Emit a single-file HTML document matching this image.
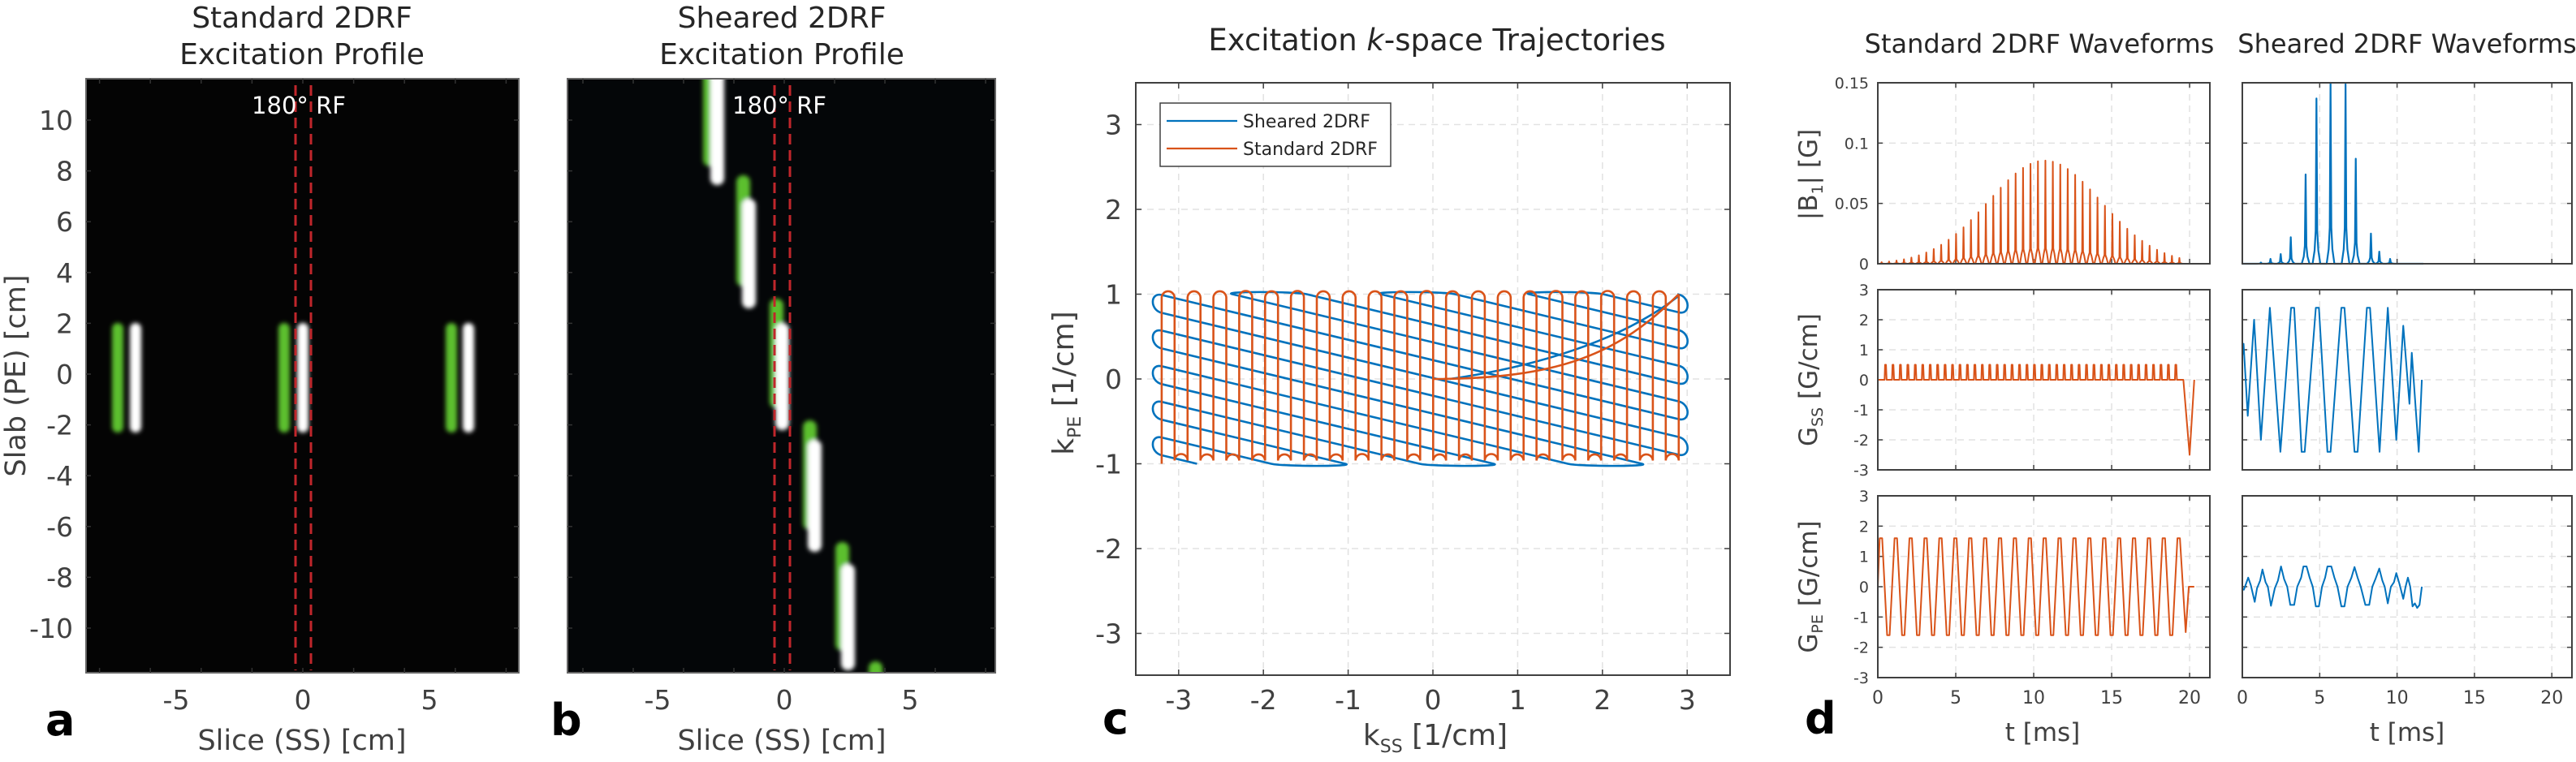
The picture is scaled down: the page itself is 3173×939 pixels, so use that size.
<!DOCTYPE html>
<html><head><meta charset="utf-8"><style>
html,body{margin:0;padding:0;background:#fff;}
svg{display:block;}
text{font-family:"DejaVu Sans","Liberation Sans",sans-serif;}
</style></head><body>
<svg id="s" xmlns="http://www.w3.org/2000/svg" width="3173" height="939" viewBox="0 0 3173 939">
<defs>
<filter id="bl" x="-50%" y="-20%" width="200%" height="140%"><feGaussianBlur stdDeviation="2.6"/></filter>
<clipPath id="ca"><rect x="106" y="97" width="533" height="732"/></clipPath>
<clipPath id="cb"><rect x="699" y="97" width="527" height="732"/></clipPath>
</defs>
<!-- Panel a -->
<rect x="106" y="97" width="533" height="732" fill="#040404"/>
<g clip-path="url(#ca)" filter="url(#bl)">
<rect x="138" y="398" width="14" height="135" rx="7" fill="#5cbf2e"/>
<rect x="160" y="398" width="14" height="135" rx="7" fill="#ffffff"/>
<rect x="343" y="398" width="14" height="135" rx="7" fill="#5cbf2e"/>
<rect x="366" y="398" width="14" height="135" rx="7" fill="#ffffff"/>
<rect x="549" y="398" width="14" height="135" rx="7" fill="#5cbf2e"/>
<rect x="570" y="398" width="14" height="135" rx="7" fill="#ffffff"/>
</g>
<g stroke="#c0262b" stroke-width="3" stroke-dasharray="13,7">
<line x1="364" y1="105" x2="364" y2="826"/><line x1="383" y1="105" x2="383" y2="826"/>
</g>
<text x="368" y="140" font-size="29" fill="#fff" text-anchor="middle">180° RF</text>
<rect x="106" y="97" width="533" height="732" fill="none" stroke="#666" stroke-width="2"/>
<!-- Panel b -->
<rect x="699" y="97" width="527" height="732" fill="#040608"/>
<g clip-path="url(#cb)" filter="url(#bl)">
<rect x="866" y="80" width="17" height="125" rx="8" fill="#5cbf2e"/>
<rect x="875" y="85" width="17" height="143" rx="8" fill="#ffffff"/>
<rect x="907" y="216" width="17" height="137" rx="8" fill="#5cbf2e"/>
<rect x="914" y="245" width="17" height="135" rx="8" fill="#ffffff"/>
<rect x="948" y="368" width="17" height="135" rx="8" fill="#5cbf2e"/>
<rect x="955" y="398" width="17" height="132" rx="8" fill="#ffffff"/>
<rect x="989" y="518" width="17" height="135" rx="8" fill="#5cbf2e"/>
<rect x="995" y="542" width="17" height="138" rx="8" fill="#ffffff"/>
<rect x="1029" y="668" width="17" height="134" rx="8" fill="#5cbf2e"/>
<rect x="1036" y="695" width="17" height="131" rx="8" fill="#ffffff"/>
<rect x="1070" y="815" width="17" height="60" rx="8" fill="#5cbf2e"/>
</g>
<g stroke="#c0262b" stroke-width="3" stroke-dasharray="13,7">
<line x1="954" y1="105" x2="954" y2="826"/><line x1="973" y1="105" x2="973" y2="826"/>
</g>
<text x="960" y="140" font-size="29" fill="#fff" text-anchor="middle">180° RF</text>
<rect x="699" y="97" width="527" height="732" fill="none" stroke="#666" stroke-width="2"/>
<g id="ab" fill="#262626" font-size="36" text-anchor="middle">
<text x="372" y="34">Standard 2DRF</text><text x="372" y="79">Excitation Profile</text>
<text x="963" y="34">Sheared 2DRF</text><text x="963" y="79">Excitation Profile</text>
</g>
<g fill="#404040" font-size="33" text-anchor="middle">
<text x="217" y="874">-5</text><text x="373" y="874">0</text><text x="529" y="874">5</text>
<text x="810" y="874">-5</text><text x="966" y="874">0</text><text x="1121" y="874">5</text>
</g>
<g fill="#404040" font-size="35" text-anchor="middle">
<text x="372" y="924">Slice (SS) [cm]</text><text x="963" y="924">Slice (SS) [cm]</text>
<text transform="translate(31,463) rotate(-90)">Slab (PE) [cm]</text>
</g>
<g id="aytk" fill="#404040" font-size="33" text-anchor="end"></g>
<g font-weight="bold" font-size="54" fill="#000">
<text x="56" y="906">a</text><text x="678" y="906">b</text><text x="1358" y="904">c</text><text x="2223" y="904">d</text>
</g>
<!-- Panel c -->
<g id="cg"></g>
<text x="1770" y="62" font-size="37" fill="#262626" text-anchor="middle">Excitation <tspan font-style="italic">k</tspan>-space Trajectories</text>
<text x="1768" y="918" font-size="36" fill="#404040" text-anchor="middle">k<tspan font-size="22" dy="9">SS</tspan><tspan dy="-9"> [1/cm]</tspan></text>
<text transform="translate(1322,472) rotate(-90)" font-size="36" fill="#404040" text-anchor="middle">k<tspan font-size="22" dy="9">PE</tspan><tspan dy="-9"> [1/cm]</tspan></text>
<!-- Panel d -->
<g id="dg"></g>
<g fill="#262626" font-size="32" text-anchor="middle">
<text x="2512" y="65">Standard 2DRF Waveforms</text><text x="2965" y="65">Sheared 2DRF Waveforms</text>
</g>
<g fill="#404040" font-size="31" text-anchor="middle">
<text x="2516" y="913">t [ms]</text><text x="2965" y="913">t [ms]</text>
<text transform="translate(2238,215) rotate(-90)">|B<tspan font-size="19" dy="7">1</tspan><tspan dy="-7">| [G]</tspan></text>
<text transform="translate(2238,468) rotate(-90)">G<tspan font-size="19" dy="7">SS</tspan><tspan dy="-7"> [G/cm]</tspan></text>
<text transform="translate(2238,723) rotate(-90)">G<tspan font-size="19" dy="7">PE</tspan><tspan dy="-7"> [G/cm]</tspan></text>
</g>
</svg>
<script>
(function(){
var NS="http://www.w3.org/2000/svg";
function el(parent,tag,attrs,txt){var e=document.createElementNS(NS,tag);for(var k in attrs)e.setAttribute(k,attrs[k]);if(txt!==undefined)e.textContent=txt;parent.appendChild(e);return e;}
var svg=document.getElementById('s');
var ay=document.getElementById('aytk');
for(var v=-10;v<=10;v+=2){var y=461-31.3*v;el(ay,'text',{x:90,y:y+12},String(v));}
var tk=el(svg,'g',{stroke:'#333','stroke-width':1.5});
for(var v=-10;v<=10;v+=2){var y=461-31.3*v;[[106,639],[699,1226]].forEach(function(p){el(tk,'line',{x1:p[0],y1:y,x2:p[0]+6,y2:y});el(tk,'line',{x1:p[1],y1:y,x2:p[1]-6,y2:y});});}
for(var v=-8;v<=8;v+=2){var x=373+31.3*v;el(tk,'line',{x1:x,y1:829,x2:x,y2:823});el(tk,'line',{x1:x,y1:97,x2:x,y2:103});var x2=966+31*v;el(tk,'line',{x1:x2,y1:829,x2:x2,y2:823});el(tk,'line',{x1:x2,y1:97,x2:x2,y2:103});}

var cg=document.getElementById('cg');
var X=function(k){return 1765+104.4*k;}, Y=function(k){return 467-104.5*k;};
var L=1399,R=2131,T=102,B=832;
for(var i=-3;i<=3;i++){
 el(cg,'line',{x1:X(i),y1:T,x2:X(i),y2:B,stroke:'#e2e2e2','stroke-width':1.5,'stroke-dasharray':'8,6'});
 el(cg,'line',{x1:L,y1:Y(i),x2:R,y2:Y(i),stroke:'#e2e2e2','stroke-width':1.5,'stroke-dasharray':'8,6'});
}
var ct=el(cg,'g',{stroke:'#404040','stroke-width':1.5});
for(var i=-3;i<=3;i++){
 el(ct,'line',{x1:X(i),y1:B,x2:X(i),y2:B-7});el(ct,'line',{x1:X(i),y1:T,x2:X(i),y2:T+7});
 el(ct,'line',{x1:L,y1:Y(i),x2:L+7,y2:Y(i)});el(ct,'line',{x1:R,y1:Y(i),x2:R-7,y2:Y(i)});
 el(cg,'text',{x:X(i),y:874,'font-size':33,fill:'#404040','text-anchor':'middle'},String(i));
 el(cg,'text',{x:1382,y:Y(i)+12,'font-size':33,fill:'#404040','text-anchor':'end'},String(i));
}
var s=0.24, lines=[];
for(var k=-8;k<=8;k++){
 var c=0.78+0.21*k, le, re;
 if(c<=1) le=[-3.2,c]; else le=[-3.2+(c-1)/s,1];
 var kr=c-s*6.1;
 if(kr>=-1) re=[2.9,kr]; else re=[-3.2+(c+1)/s,-1];
 lines.push({k:k,le:le,re:re});
}
function P(p){return [X(p[0]),Y(p[1])];}
var dL=[-0.972,-0.233], dR=[0.972,0.233], Lc=15;
var d='';var first=true;
for(var j=0;j<lines.length;j++){
 var ln=lines[j];
 var goLeft=((ln.k+8)%2===0);
 var a=goLeft?P(ln.re):P(ln.le), b=goLeft?P(ln.le):P(ln.re);
 if(first){d+='M'+a[0].toFixed(1)+','+a[1].toFixed(1);first=false;}
 d+=' L'+b[0].toFixed(1)+','+b[1].toFixed(1);
 if(j<lines.length-1){
  var nx=lines[j+1];var na=goLeft?P(nx.le):P(nx.re);var dd=goLeft?dL:dR;
  d+=' C'+(b[0]+dd[0]*Lc).toFixed(1)+','+(b[1]+dd[1]*Lc).toFixed(1)+' '+(na[0]+dd[0]*Lc).toFixed(1)+','+(na[1]+dd[1]*Lc).toFixed(1)+' '+na[0].toFixed(1)+','+na[1].toFixed(1);
 }
}
el(cg,'path',{d:d,fill:'none',stroke:'#0072bd','stroke-width':2.6});
el(cg,'path',{d:'M'+X(2.9)+','+Y(0.98)+' C'+X(2.1)+','+Y(0.35)+' '+X(0.9)+','+Y(0.1)+' '+X(0.2)+','+Y(0.0),fill:'none',stroke:'#0072bd','stroke-width':2.6});
var od='M'+X(-3.2)+','+Y(-1), r=7.96;
for(var i=0;i<=40;i++){
 var x=X(-3.2+0.1525*i), up=(i%2===0);
 if(i===40){od+=' L'+x.toFixed(1)+','+Y(1).toFixed(1);break;}
 var yend=up?Y(0.962):Y(-0.962);
 od+=' L'+x.toFixed(1)+','+yend.toFixed(1);
 var xn=X(-3.2+0.1525*(i+1));
 od+=' A'+r+','+r+' 0 0 1 '+xn.toFixed(1)+','+yend.toFixed(1);
}
el(cg,'path',{d:od,fill:'none',stroke:'#d95319','stroke-width':2.6});
el(cg,'path',{d:'M'+X(0)+','+Y(0)+' C'+X(1.5)+','+Y(0)+' '+X(2.2)+','+Y(0.3)+' '+X(2.9)+','+Y(1),fill:'none',stroke:'#d95319','stroke-width':2.6});
el(cg,'rect',{x:L,y:T,width:R-L,height:B-T,fill:'none',stroke:'#404040','stroke-width':2});
el(cg,'rect',{x:1429,y:127,width:284,height:78,fill:'#fff',stroke:'#404040','stroke-width':1.5});
el(cg,'line',{x1:1437,y1:149,x2:1524,y2:149,stroke:'#0072bd','stroke-width':2.2});
el(cg,'line',{x1:1437,y1:183,x2:1524,y2:183,stroke:'#d95319','stroke-width':2.2});
el(cg,'text',{x:1531,y:157,'font-size':22,fill:'#262626'},'Sheared 2DRF');
el(cg,'text',{x:1531,y:191,'font-size':22,fill:'#262626'},'Standard 2DRF');

var dg=document.getElementById('dg');
var cols=[{l:2313,r:2722},{l:2762,r:3168}];
var rows=[{t:102,b:325,min:0,max:0.15,ticks:[0,0.05,0.1,0.15],lab:['0','0.05','0.1','0.15']},
          {t:357,b:579,min:-3,max:3,ticks:[-3,-2,-1,0,1,2,3]},
          {t:611,b:835,min:-3,max:3,ticks:[-3,-2,-1,0,1,2,3]}];
var TMAX=21.3;
function tx(c,t){return c.l+(c.r-c.l)*t/TMAX;}
function vy(r,v){return r.b-(r.b-r.t)*(v-r.min)/(r.max-r.min);}
rows.forEach(function(r,ri){cols.forEach(function(c,ci){
 var g=el(dg,'g',{});
 [5,10,15,20].forEach(function(t){el(g,'line',{x1:tx(c,t),y1:r.t,x2:tx(c,t),y2:r.b,stroke:'#e2e2e2','stroke-width':1.5,'stroke-dasharray':'8,6'});});
 r.ticks.forEach(function(v){if(v!==r.min&&v!==r.max)el(g,'line',{x1:c.l,y1:vy(r,v),x2:c.r,y2:vy(r,v),stroke:'#e2e2e2','stroke-width':1.5,'stroke-dasharray':'8,6'});});
 var tg=el(g,'g',{stroke:'#404040','stroke-width':1.5});
 [0,5,10,15,20].forEach(function(t){el(tg,'line',{x1:tx(c,t),y1:r.b,x2:tx(c,t),y2:r.b-6});el(tg,'line',{x1:tx(c,t),y1:r.t,x2:tx(c,t),y2:r.t+6});});
 r.ticks.forEach(function(v,vi){el(tg,'line',{x1:c.l,y1:vy(r,v),x2:c.l+6,y2:vy(r,v)});el(tg,'line',{x1:c.r,y1:vy(r,v),x2:c.r-6,y2:vy(r,v)});
  if(ci===0)el(dg,'text',{x:2302,y:vy(r,v)+7,'font-size':19,fill:'#404040','text-anchor':'end'},r.lab?r.lab[vi]:String(v));});
 if(ri===2)[0,5,10,15,20].forEach(function(t){el(dg,'text',{x:tx(c,t),y:867,'font-size':22,fill:'#404040','text-anchor':'middle'},String(t));});
});});
function poly(ri,ci,pts,col,w){var r=rows[ri],c=cols[ci];var d='';pts.forEach(function(p,i){d+=(i?' L':'M')+tx(c,p[0]).toFixed(2)+','+vy(r,p[1]).toFixed(2);});el(dg,'path',{d:d,fill:'none',stroke:col,'stroke-width':w||2,'stroke-linejoin':'round'});}
var OR='#d95319',BL='#0072bd';
var p=[[0,0]];
for(var i=0;i<=40;i++){var t=0.245+0.4775*i;var h=0.0855*Math.exp(-Math.pow(t-10.7,2)/26);
 p.push([t-0.2,0],[t-0.1,0.1*h],[t-0.03,0.15*h],[t,h],[t+0.03,0.15*h],[t+0.1,0.1*h],[t+0.2,0]);}
p.push([20.3,0]);poly(0,0,p,OR,2);
p=[[0,0]];
for(var i=0;i<40;i++){var t=0.485+0.4775*i;p.push([t-0.05,0],[t-0.02,0.5],[t+0.04,0.5],[t+0.08,0]);}
p.push([19.6,0],[20.0,-2.5],[20.3,0]);poly(1,0,p,OR,2);
p=[[0,0]];
for(var k=0;k<=40;k++){var c=0.2+0.4775*k,a=(k%2===0)?1.6:-1.6;p.push([c-0.08,a],[c+0.08,a]);}
p.push([19.75,-1.5],[19.95,0],[20.3,0]);poly(2,0,p,OR,2);
var sp=[[1.2,0.001],[1.82,0.004],[2.48,0.008],[3.13,0.022],[4.09,0.074],[4.79,0.137],[5.7,0.15],[6.67,0.149],[7.33,0.087],[8.31,0.025],[8.85,0.01],[9.55,0.004]];
p=[[0,0]];sp.forEach(function(q){var t=q[0],h=q[1];p.push([t-0.25,0],[t-0.12,0.08*h],[t-0.05,0.2*h],[t,h],[t+0.05,0.2*h],[t+0.12,0.08*h],[t+0.25,0]);});
p.push([11.7,0]);poly(0,1,p,BL,2.2);
var gs=[[0,0.8],[0.08,1.2],[0.35,-1.2],[0.76,2.0],[1.2,-2.0],[1.78,2.4],[2.46,-2.4],[3.15,2.4],[3.35,2.4],[3.83,-2.4],[4.03,-2.4],[4.75,2.4],[4.95,2.4],[5.5,-2.4],[5.7,-2.4],[6.4,2.4],[6.6,2.4],[7.25,-2.4],[7.45,-2.4],[8.05,2.4],[8.25,2.4],[8.87,-2.4],[9.4,2.4],[9.95,-2.0],[10.4,1.8],[10.8,-0.8],[10.95,0.9],[11.4,-2.4],[11.6,0]];
poly(1,1,gs,BL,2);
var ge=[[0,-0.05],[0.1,-0.1],[0.38,0.3],[0.55,0.05],[0.8,-0.5],[0.95,-0.05],[1.15,0.2],[1.3,0.57],[1.5,0.15],[1.65,0],[1.85,-0.63],[2.1,-0.05],[2.3,0.2],[2.5,0.67],[2.7,0.25],[2.9,0],[3.1,-0.6],[3.35,-0.6],[3.55,0],[3.8,0.3],[3.95,0.67],[4.15,0.67],[4.35,0.3],[4.55,0],[4.75,-0.65],[4.95,-0.65],[5.15,0],[5.35,0.3],[5.5,0.67],[5.75,0.67],[5.95,0.3],[6.15,0],[6.4,-0.65],[6.6,-0.65],[6.8,0],[7.05,0.3],[7.25,0.65],[7.45,0.3],[7.65,0],[7.95,-0.6],[8.2,-0.6],[8.4,0],[8.6,0.25],[8.85,0.6],[9.05,0.2],[9.2,0],[9.4,-0.55],[9.6,0],[9.8,0.15],[9.95,0.45],[10.15,0.1],[10.4,-0.4],[10.55,0],[10.7,0.3],[10.85,0],[11.0,-0.65],[11.15,-0.55],[11.3,-0.7],[11.45,-0.6],[11.6,0]];
poly(2,1,ge,BL,2);
rows.forEach(function(r){cols.forEach(function(c){el(dg,'rect',{x:c.l,y:r.t,width:c.r-c.l,height:r.b-r.t,fill:'none',stroke:'#404040','stroke-width':2});});});
})();
</script>
</body></html>
